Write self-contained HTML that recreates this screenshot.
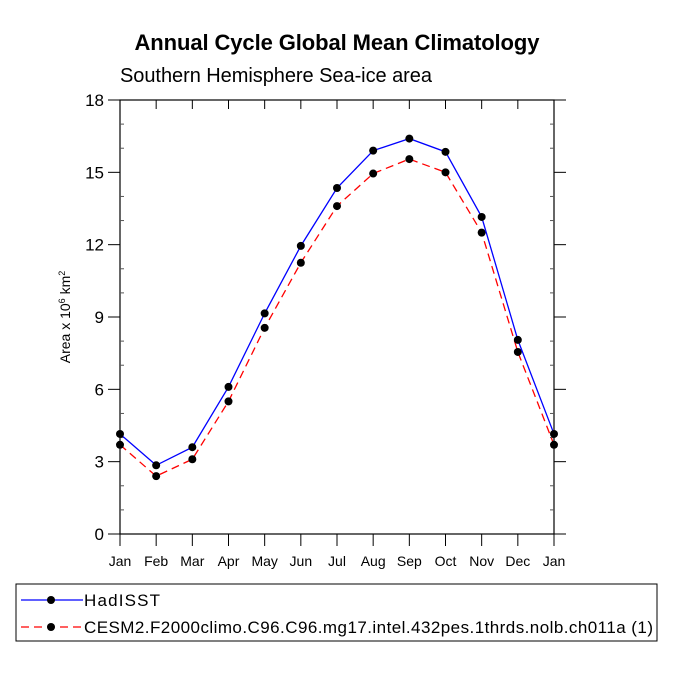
<!DOCTYPE html>
<html><head><meta charset="utf-8"><style>body{margin:0;background:#fff}svg{display:block;font-family:"Liberation Sans",Arial,sans-serif}</style></head>
<body>
<svg id="c" width="675" height="675" viewBox="0 0 675 675">
<text x="337" y="50" text-anchor="middle" font-size="22" font-weight="bold" textLength="405">Annual Cycle Global Mean Climatology</text>
<text x="120" y="82" font-size="20" textLength="312">Southern Hemisphere Sea-ice area</text>
<text transform="translate(70,317) rotate(-90)" text-anchor="middle" font-size="14">Area x 10<tspan font-size="9" dy="-5">6</tspan><tspan dy="5"> km</tspan><tspan font-size="9" dy="-5">2</tspan></text>
<g id="axes"></g>
<g id="series"></g>
<rect x="16" y="584" width="641" height="57" fill="none" stroke="#000" stroke-width="1"/>
<g>
<line x1="21" y1="600" x2="83" y2="600" stroke="#00f" stroke-width="1.3"/>
<circle cx="51" cy="600" r="4" fill="#000"/>
<text x="84" y="606" font-size="17" textLength="76">HadISST</text></g>
<g>
<line x1="21" y1="627" x2="83" y2="627" stroke="#f00" stroke-width="1.3" stroke-dasharray="8,5"/>
<circle cx="51" cy="627" r="4" fill="#000"/>
<text x="84" y="633" font-size="17" textLength="569">CESM2.F2000climo.C96.C96.mg17.intel.432pes.1thrds.nolb.ch011a (1)</text></g>
</svg>
<script>
const months=["Jan","Feb","Mar","Apr","May","Jun","Jul","Aug","Sep","Oct","Nov","Dec","Jan"];
const hadisst=[4.15,2.85,3.6,6.1,9.15,11.95,14.35,15.9,16.4,15.85,13.15,8.05,4.15];
const cesm=[3.7,2.4,3.1,5.5,8.55,11.25,13.6,14.95,15.55,15.0,12.5,7.55,3.7];
const yTicks=[0,3,6,9,12,15,18];
const L=120,R=554,T=100,B=534,NS="http://www.w3.org/2000/svg";
const xs=i=>L+(R-L)*i/(months.length-1);
const ys=v=>B-(B-T)*v/18;
function mk(t,a,p){const e=document.createElementNS(NS,t);for(const k in a)e.setAttribute(k,a[k]);p.appendChild(e);return e;}
const ax=document.getElementById('axes');
const frame=mk('rect',{x:L,y:T,width:R-L,height:B-T,fill:'none',stroke:'#000','stroke-width':1.2},ax);


yTicks.forEach(v=>{const y=ys(v);
mk('line',{x1:L-12,y1:y,x2:L,y2:y,stroke:'#000'},ax);
mk('line',{x1:R,y1:y,x2:R+12,y2:y,stroke:'#000'},ax);
const t=mk('text',{x:L-16,y:y+6,'text-anchor':'end','font-size':17},ax);t.textContent=v;


if(v<18)[1,2].forEach(k=>{const yy=ys(v+k);mk('line',{x1:L,y1:yy,x2:L+4,y2:yy,stroke:'#555'},ax);mk('line',{x1:R-4,y1:yy,x2:R,y2:yy,stroke:'#555'},ax);});});
months.forEach((m,i)=>{const x=xs(i);
mk('line',{x1:x,y1:B,x2:x,y2:B+12,stroke:'#000'},ax);
mk('line',{x1:x,y1:T,x2:x,y2:T+9,stroke:'#000'},ax);
const t=mk('text',{x:x,y:B+32,'text-anchor':'middle','font-size':14},ax);t.textContent=m;

});
const sg=document.getElementById('series');
function draw(vals,col,dash,name){
const p=mk('polyline',{points:vals.map((v,i)=>xs(i)+','+ys(v)).join(' '),fill:'none',stroke:col,'stroke-width':1.3},sg);
if(dash)p.setAttribute('stroke-dasharray','8,5');


vals.forEach((v,i)=>{const c=mk('circle',{cx:xs(i),cy:ys(v),r:4,fill:'#000'},sg);

});}
draw(cesm,'#f00',true,'cesm2');
draw(hadisst,'#00f',false,'hadisst');
</script>
</body></html>
